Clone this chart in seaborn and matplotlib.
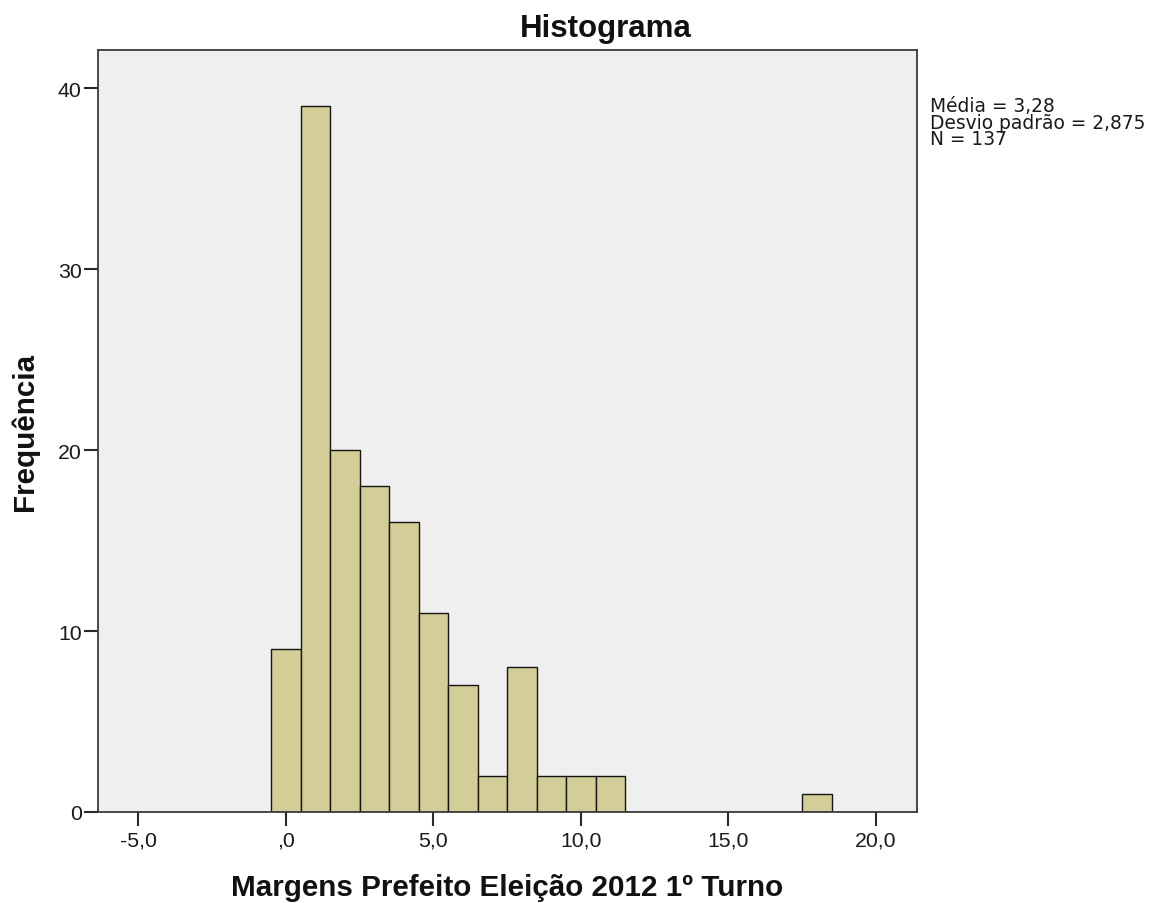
import matplotlib
matplotlib.use("Agg")
import matplotlib.pyplot as plt
import seaborn as sns
import numpy as np

# ---- data ----
bin_centers = [0, 1, 2, 3, 4, 5, 6, 7, 8, 9, 10, 11, 18]
counts = [9, 39, 20, 18, 16, 11, 7, 2, 8, 2, 2, 2, 1]
x_ticks = [-5, 0, 5, 10, 15, 20]
x_tick_labels = ["-5,0", ",0", "5,0", "10,0", "15,0", "20,0"]
y_ticks = [0, 10, 20, 30, 40]
y_tick_labels = ["0", "10", "20", "30", "40"]
stats_lines = ["Média = 3,28", "Desvio padrão = 2,875", "N = 137"]
title = "Histograma"
x_label = "Margens Prefeito Eleição 2012 1º Turno"
y_label = "Frequência"

sns.set_style("white")
plt.rcParams["font.family"] = ["Liberation Sans", "DejaVu Sans"]

W, H = 1150, 904
fig = plt.figure(figsize=(W / 100, H / 100), dpi=100)
ax = fig.add_axes([97.7 / W, (H - 813) / H, (917 - 97.7) / W, (813 - 50.7) / H])
ax.set_facecolor("#efefef")

sns.histplot(x=bin_centers, weights=counts, binwidth=1, binrange=(-0.5, 18.5),
             color="#d3ce97", edgecolor="#151515", linewidth=1.0, alpha=1.0, ax=ax)

ax.set_xlim(-6.38, 21.39)
ax.set_ylim(0, 42.12)
ax.set_xticks(x_ticks)
ax.set_xticklabels(x_tick_labels)
ax.set_yticks(y_ticks)
ax.set_yticklabels(y_tick_labels)
ax.grid(False)

for s in ax.spines.values():
    s.set_visible(True)
    s.set_color("#3a3a3a")
    s.set_linewidth(1.3)

ax.tick_params(axis="both", which="major", direction="out", length=10, width=1.5,
               color="#2a2a2a", labelsize=15.3, labelcolor="#1a1a1a",
               bottom=True, left=True, top=False, right=False)
ax.tick_params(axis="x", pad=3)
ax.tick_params(axis="y", pad=1.5)

ax.set_xlabel(x_label, fontsize=21.3, fontweight="bold", color="#111111", labelpad=17)
ax.set_ylabel(y_label, fontsize=21.3, fontweight="bold", color="#111111", labelpad=14)

fig.text(606 / W, 1 - 37 / H, title, ha="center", va="baseline",
         fontsize=22.5, fontweight="bold", color="#111111")

fig.text(930 / W, 1 - 97 / H, "\n".join(stats_lines), ha="left", va="top",
         fontsize=13.4, color="#1a1a1a", linespacing=0.84, family=["DejaVu Sans"])

fig.savefig("out.png", dpi=100, facecolor="white")
